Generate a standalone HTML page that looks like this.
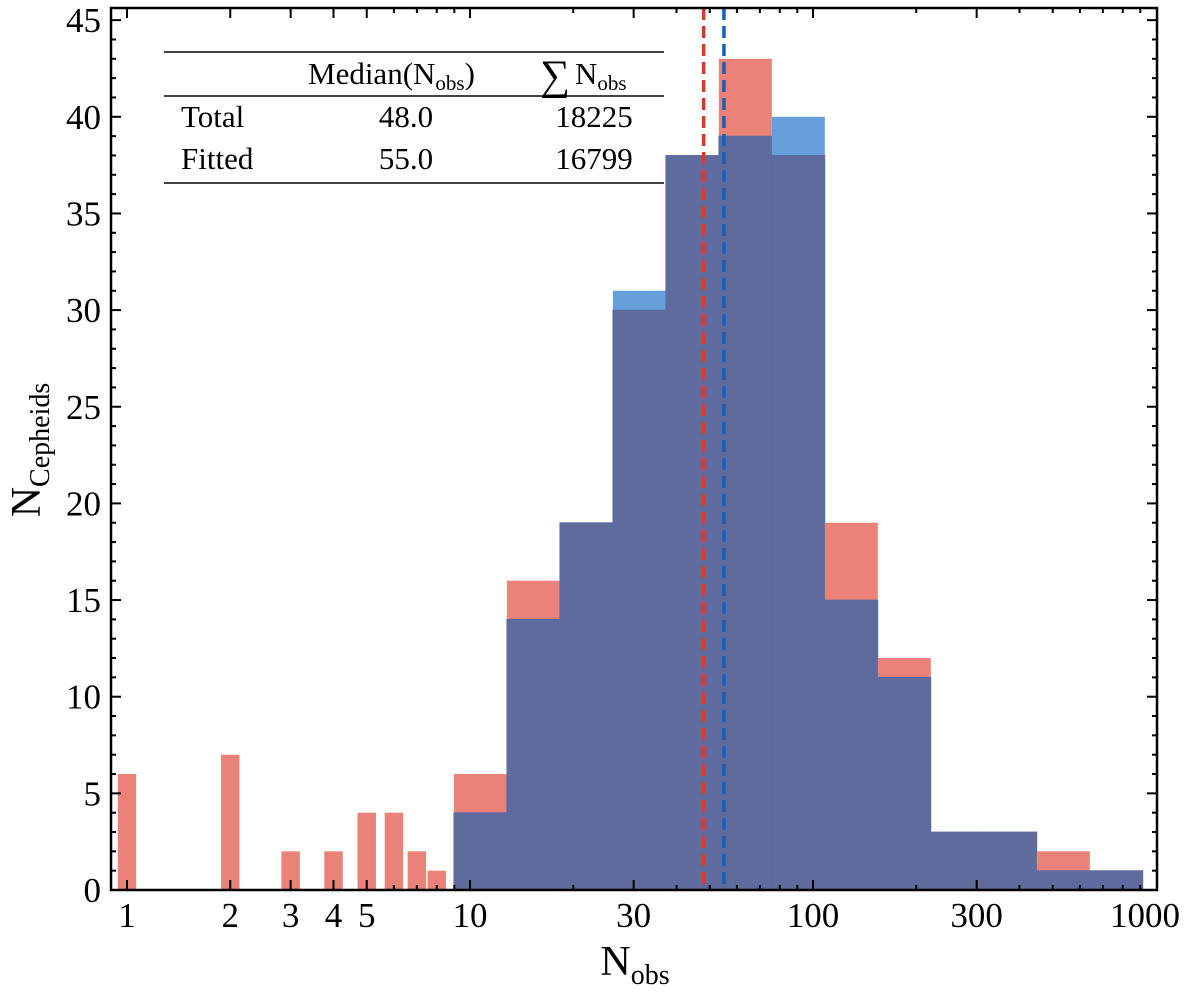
<!DOCTYPE html>
<html><head><meta charset="utf-8"><style>
body{margin:0;background:#fff;}
svg text{font-family:"Liberation Serif","DejaVu Serif",serif;fill:#000;}
</style></head><body>
<svg id="chart" width="1200" height="993" xmlns="http://www.w3.org/2000/svg">
<g id="bars"></g>
<g id="lines"></g>
<g id="axes"></g>
<g id="table">
  <line x1="164" y1="52" x2="664" y2="52" stroke="#444" stroke-width="2"/>
  <line x1="164" y1="96" x2="664" y2="96" stroke="#444" stroke-width="2"/>
  <line x1="164" y1="183" x2="664" y2="183" stroke="#444" stroke-width="2"/>
  <text x="308" y="84" font-size="31">Median(N<tspan font-size="21" dy="6">obs</tspan><tspan dy="-6">)</tspan></text>
  <text x="540" y="89" font-size="42">∑</text>
  <text x="575" y="84" font-size="31">N<tspan font-size="21" dy="6">obs</tspan></text>
  <text x="181" y="127" font-size="31">Total</text>
  <text x="406" y="127" font-size="31" text-anchor="middle">48.0</text>
  <text x="594" y="127" font-size="31" text-anchor="middle">18225</text>
  <text x="181" y="169" font-size="31">Fitted</text>
  <text x="406" y="169" font-size="31" text-anchor="middle">55.0</text>
  <text x="594" y="169" font-size="31" text-anchor="middle">16799</text>
</g>
<text x="635" y="975" font-size="42" text-anchor="middle">N<tspan font-size="28" dy="9">obs</tspan></text>
<text transform="translate(40,450) rotate(-90)" font-size="42" text-anchor="middle">N<tspan font-size="28" dy="9">Cepheids</tspan></text>
</svg>
<script>
const smallBinCenters=[1,2,3,4,5,6,7,8];
const smallBinTotal=[6,7,2,2,4,4,2,1];
const logBinStart=0.953;
const logBinWidth=0.1545;
const totalCounts=[6,16,19,30,38,43,38,19,12,3,3,2,1];
const fittedCounts=[4,14,19,31,38,39,40,15,11,3,3,1,1];
const medianTotal=48.0;
const medianFitted=55.0;
const yTicks=[0,5,10,15,20,25,30,35,40,45];
const xTickLabels=[1,2,3,4,5,10,30,100,300,1000];

const L=111,R=1157,T=8,B=890;
const X=v=>127+343*Math.log10(v);
const XL=l=>127+343*l;
const Y=v=>B-v*19.33;
const NS="http://www.w3.org/2000/svg";
function mk(parent,tag,attrs){const e=document.createElementNS(NS,tag);for(const k in attrs)e.setAttribute(k,attrs[k]);parent.appendChild(e);return e;}
const bars=document.getElementById('bars');
const RED="#ea8278",BLUE="#669fd9",NAVY="#5e6b9c";
const hw=9.2/343;
smallBinCenters.forEach((c,i)=>{
  const lc=Math.log10(c);
  const r=mk(bars,'rect',{x:XL(lc-hw),y:Y(smallBinTotal[i]),width:XL(lc+hw)-XL(lc-hw),height:Y(0)-Y(smallBinTotal[i]),fill:RED});
  
  
});
totalCounts.forEach((t,i)=>{
  const f=fittedCounts[i];
  const x0=XL(logBinStart+i*logBinWidth),x1=XL(logBinStart+(i+1)*logBinWidth);
  const top=Math.max(t,f),lo=Math.min(t,f);
  const r1=mk(bars,'rect',{x:x0,y:Y(top),width:x1-x0,height:Y(lo)-Y(top),fill:t>f?RED:BLUE});
  
  
  const r2=mk(bars,'rect',{x:x0,y:Y(lo),width:x1-x0,height:Y(0)-Y(lo),fill:NAVY,stroke:"#5a6aa6","stroke-width":0.8});
  
  
});
const lines=document.getElementById('lines');
const l1=mk(lines,'line',{x1:X(medianTotal),x2:X(medianTotal),y1:T,y2:B,stroke:"#d93a2a","stroke-width":3.5,"stroke-dasharray":"12,6"});


const l2=mk(lines,'line',{x1:X(medianFitted),x2:X(medianFitted),y1:T,y2:B,stroke:"#1560bd","stroke-width":3.5,"stroke-dasharray":"12,6"});



const ax=document.getElementById('axes');
const frame=mk(ax,'rect',{x:L,y:T,width:R-L,height:B-T,fill:"none",stroke:"#000","stroke-width":2.5});


for(let v=0;v<=45;v++){
  const y=Y(v),len=v%5===0?10:5;
  mk(ax,'line',{x1:L,x2:L+len,y1:y,y2:y,stroke:"#000","stroke-width":2});
  mk(ax,'line',{x1:R,x2:R-len,y1:y,y2:y,stroke:"#000","stroke-width":2});
}
yTicks.forEach(v=>{
  const t=mk(ax,'text',{x:L-10,y:Y(v)+12,"font-size":35,"text-anchor":"end"});
  t.textContent=v;
  
  
});
for(let d=0;d<3;d++){for(let m=1;m<10;m++){
  const v=m*Math.pow(10,d);const x=X(v);if(x>R)continue;
  const major=xTickLabels.includes(v);const len=major?10:5;
  mk(ax,'line',{x1:x,x2:x,y1:B,y2:B-len,stroke:"#000","stroke-width":2});
  mk(ax,'line',{x1:x,x2:x,y1:T,y2:T+len,stroke:"#000","stroke-width":2});
}}
xTickLabels.forEach(v=>{
  let x=X(v); if(v===1000)x=1145;
  const t=mk(ax,'text',{x:x,y:B+37,"font-size":35,"text-anchor":"middle"});
  t.textContent=v;
  
  
});
</script>
</body></html>
